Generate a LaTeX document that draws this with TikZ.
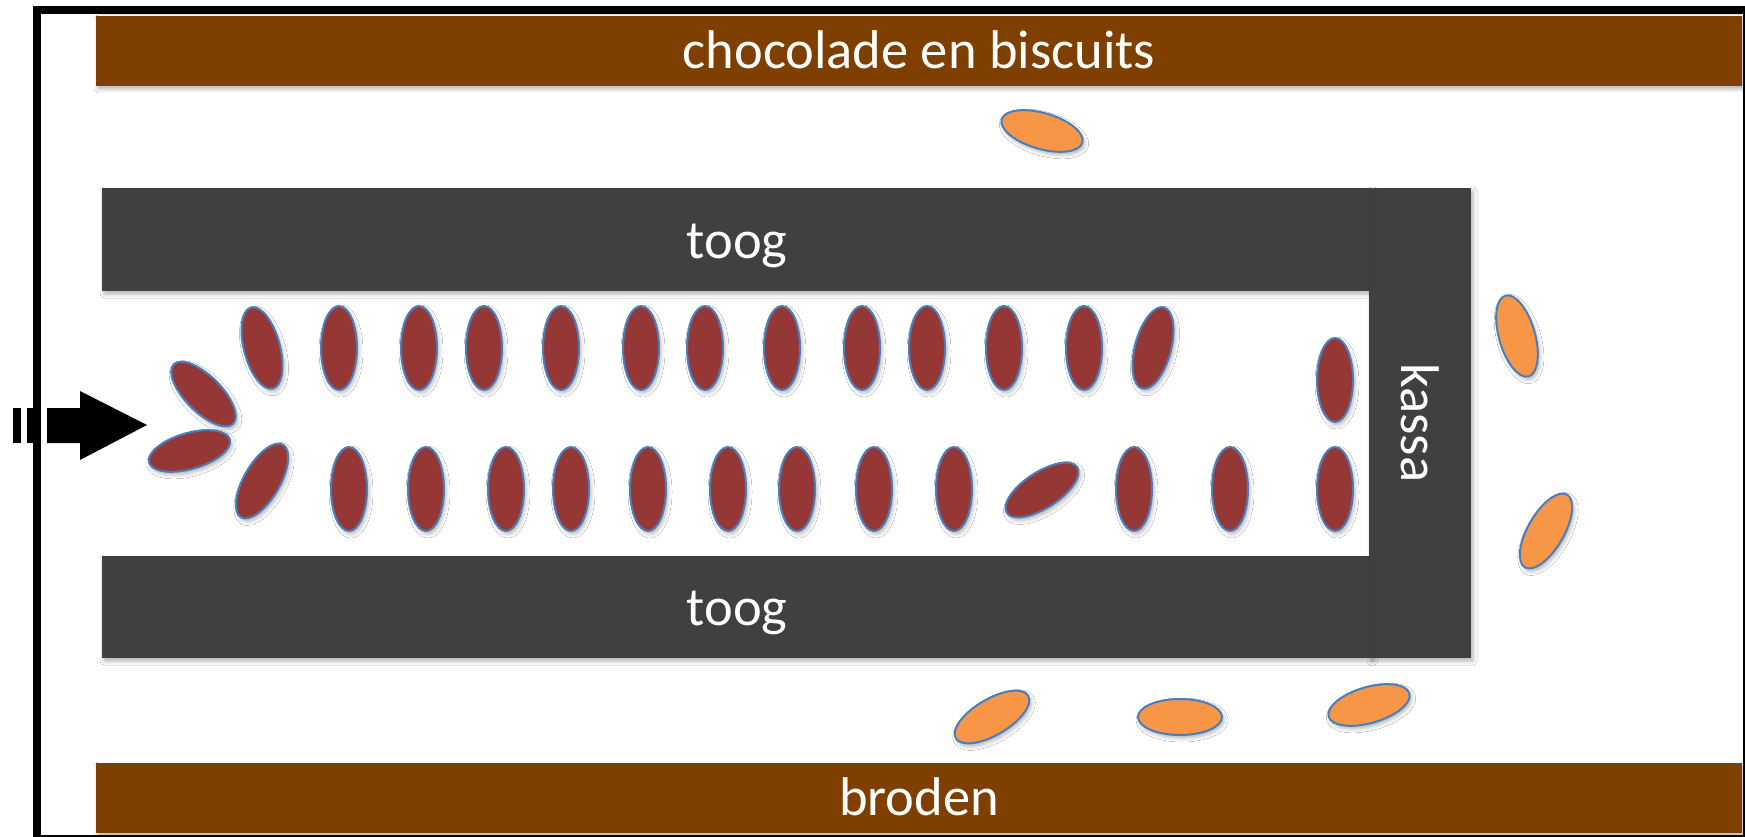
\documentclass[tikz,border=0pt]{standalone}
\usepackage{fontspec}
\setmainfont{Carlito}
\usetikzlibrary{shapes.geometric,shadows.blur}
\definecolor{brownbar}{HTML}{7F3F00}
\definecolor{counter}{HTML}{404040}
\definecolor{darkred}{HTML}{953735}
\definecolor{orng}{HTML}{F79646}
\definecolor{edge}{HTML}{4A7EBB}
\begin{document}
\begin{tikzpicture}[x=1pt,y=-1pt,
  sh/.style={blur shadow={shadow xshift=2pt,shadow yshift=-3pt,shadow blur radius=4pt,shadow opacity=30}},
  lbl/.style={text=white,font=\fontsize{54.5}{62}\selectfont,text height=0.75em,text depth=0.25em,inner sep=0pt},
  bar/.style={fill=brownbar,inner sep=0pt,sh},
  desk/.style={fill=counter,inner sep=0pt,sh},
  pers/.style={ellipse,fill=darkred,draw=edge,line width=2pt,minimum width=36pt,minimum height=84pt,inner sep=0pt,sh},
  cust/.style={pers,fill=orng}]
\useasboundingbox (0,0) rectangle (1745,837);
\clip (0,0) rectangle (1745,837);
\fill[white] (0,0) rectangle (1745,837);
% shelves
\node[bar,minimum width=1646pt,minimum height=70pt] (choc) at (919,51) {};
\node[lbl] (choctxt) at (919,66) {chocolade en biscuits};
\node[bar,minimum width=1646pt,minimum height=70pt] (brood) at (919,798) {};
\node[lbl] (broodtxt) at (919,813) {broden};
% counters
\node[desk,minimum width=1270pt,minimum height=103pt] (toog1) at (737,239.5) {};
\node[lbl] (toog1txt) at (737,256) {toog};
\node[desk,minimum width=1270pt,minimum height=102pt] (toog2) at (737,607) {};
\node[lbl] (toog2txt) at (737,623) {toog};
\node[desk,minimum width=102pt,minimum height=470pt] (kassa) at (1420,423) {};
\node[lbl,rotate=-90] (kassatxt) at (1404,423) {kassa};
% queue, top row
\node[pers,rotate=15] (t1) at (262,348) {};
\foreach \x [count=\i from 2] in {339,419,484,561,641,705,782,862,927,1004,1084}
  \node[pers] (t\i) at (\x,348) {};
\node[pers,rotate=-15] (t13) at (1153,348) {};
\node[pers] (t14) at (1335,380) {};
% queue, bottom row
\node[pers,rotate=-30] (b1) at (262,481) {};
\foreach \x [count=\i from 2] in {349,426,506,571,648,728,797,874,954}
  \node[pers] (b\i) at (\x,489) {};
\node[pers,rotate=-57] (b11) at (1042,490) {};
\foreach \x [count=\i from 12] in {1134,1230,1335}
  \node[pers] (b\i) at (\x,489) {};
% entrance
\node[pers,rotate=45] (l1) at (203.5,394) {};
\node[pers,rotate=-74] (l2) at (189.5,451) {};
% customers outside
\node[cust,rotate=74] (o1) at (1042,131) {};
\node[cust,rotate=16] (o2) at (1517,336) {};
\node[cust,rotate=-30] (o3) at (1546,531) {};
\node[cust,rotate=-59.5] (o4) at (992,717) {};
\node[cust,rotate=90] (o5) at (1180,717) {};
\node[cust,rotate=-74] (o6) at (1369,705) {};
% striped entrance arrow
\fill[black] (47,408) -- (80,408) -- (80,391) -- (147,425) -- (80,460) -- (80,443) -- (47,443) -- cycle;
\fill[black] (13,408) rectangle (21,443);
\fill[black] (27,408) rectangle (41,443);
% frame
\draw[line width=8pt] (37,10) rectangle (1747,839);
\end{tikzpicture}
\end{document}
